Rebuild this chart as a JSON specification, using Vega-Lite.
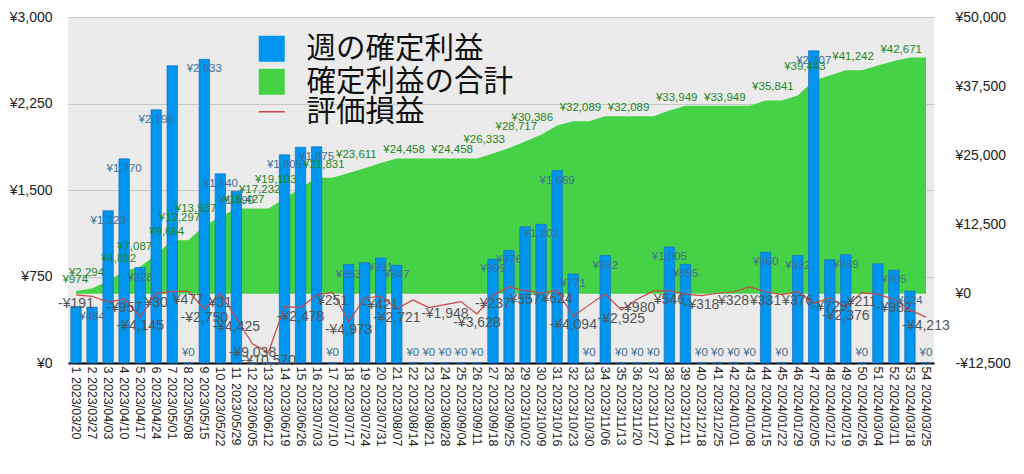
{
  "$schema": "https://vega.github.io/schema/vega-lite/v6.json",
  "width": 866,
  "height": 346,
  "autosize": {"type": "none"},
  "padding": {"left": 68, "top": 17, "right": 90, "bottom": 111},
  "background": "white",
  "config": {
    "locale": {"number": {"decimal": ".", "thousands": ",", "grouping": [3], "currency": ["¥", ""], "minus": "-"}},
    "view": {"fill": "#ebebeb", "stroke": null},
    "font": "Liberation Sans",
    "text": {"font": "Liberation Sans"}
  },
  "data": {
    "values": [
      {"w": 1, "x": "1 2023/03/20", "p": 490, "c": 490, "u": -191},
      {"w": 2, "x": "2 2023/03/27", "p": 484, "c": 974, "u": -450},
      {"w": 3, "x": "3 2023/04/03", "p": 1320, "c": 2294, "u": -1500},
      {"w": 4, "x": "4 2023/04/10", "p": 1770, "c": 4064, "u": -957},
      {"w": 5, "x": "5 2023/04/17", "p": 828, "c": 4892, "u": -4145},
      {"w": 6, "x": "6 2023/04/24", "p": 2195, "c": 7087, "u": 30},
      {"w": 7, "x": "7 2023/05/01", "p": 2577, "c": 9664, "u": 400},
      {"w": 8, "x": "8 2023/05/08", "p": 0, "c": 9664, "u": 477},
      {"w": 9, "x": "9 2023/05/15", "p": 2633, "c": 12297, "u": -2750},
      {"w": 10, "x": "10 2023/05/22", "p": 1640, "c": 13937, "u": 31},
      {"w": 11, "x": "11 2023/05/29", "p": 1490, "c": 15427, "u": -4425},
      {"w": 12, "x": "12 2023/06/05", "p": 0, "c": 15427, "u": -9038},
      {"w": 13, "x": "13 2023/06/12", "p": 0, "c": 15427, "u": -10570},
      {"w": 14, "x": "14 2023/06/19", "p": 1805, "c": 17232, "u": -2300},
      {"w": 15, "x": "15 2023/06/26", "p": 1871, "c": 19103, "u": -2478},
      {"w": 16, "x": "16 2023/07/03", "p": 1875, "c": 20978, "u": -220},
      {"w": 17, "x": "17 2023/07/10", "p": 0, "c": 20978, "u": 251},
      {"w": 18, "x": "18 2023/07/17", "p": 853, "c": 21831, "u": -4973},
      {"w": 19, "x": "19 2023/07/24", "p": 869, "c": 22700, "u": -800},
      {"w": 20, "x": "20 2023/07/31", "p": 911, "c": 23611, "u": -421},
      {"w": 21, "x": "21 2023/08/07", "p": 847, "c": 24458, "u": -2721},
      {"w": 22, "x": "22 2023/08/14", "p": 0, "c": 24458, "u": -1100},
      {"w": 23, "x": "23 2023/08/21", "p": 0, "c": 24458, "u": -2500},
      {"w": 24, "x": "24 2023/08/28", "p": 0, "c": 24458, "u": -1948},
      {"w": 25, "x": "25 2023/09/04", "p": 0, "c": 24458, "u": -1400},
      {"w": 26, "x": "26 2023/09/11", "p": 0, "c": 24458, "u": -3628},
      {"w": 27, "x": "27 2023/09/18", "p": 899, "c": 25357, "u": -237},
      {"w": 28, "x": "28 2023/09/25", "p": 976, "c": 26333, "u": 1250},
      {"w": 29, "x": "29 2023/10/02", "p": 1182, "c": 27515, "u": 557},
      {"w": 30, "x": "30 2023/10/09", "p": 1202, "c": 28717, "u": 150},
      {"w": 31, "x": "31 2023/10/16", "p": 1669, "c": 30386, "u": 624},
      {"w": 32, "x": "32 2023/10/23", "p": 771, "c": 31157, "u": -4094},
      {"w": 33, "x": "33 2023/10/30", "p": 0, "c": 31157, "u": -2000},
      {"w": 34, "x": "34 2023/11/06", "p": 932, "c": 32089, "u": -50},
      {"w": 35, "x": "35 2023/11/13", "p": 0, "c": 32089, "u": -2925},
      {"w": 36, "x": "36 2023/11/20", "p": 0, "c": 32089, "u": -980},
      {"w": 37, "x": "37 2023/11/27", "p": 0, "c": 32089, "u": 520},
      {"w": 38, "x": "38 2023/12/04", "p": 1005, "c": 33094, "u": 546},
      {"w": 39, "x": "39 2023/12/11", "p": 855, "c": 33949, "u": -50},
      {"w": 40, "x": "40 2023/12/18", "p": 0, "c": 33949, "u": -318},
      {"w": 41, "x": "41 2023/12/25", "p": 0, "c": 33949, "u": 100},
      {"w": 42, "x": "42 2024/01/01", "p": 0, "c": 33949, "u": 328},
      {"w": 43, "x": "43 2024/01/08", "p": 0, "c": 33949, "u": 1250},
      {"w": 44, "x": "44 2024/01/15", "p": 960, "c": 34909, "u": 331},
      {"w": 45, "x": "45 2024/01/22", "p": 0, "c": 34909, "u": -150},
      {"w": 46, "x": "46 2024/01/29", "p": 932, "c": 35841, "u": 376},
      {"w": 47, "x": "47 2024/02/05", "p": 2707, "c": 38548, "u": -1700},
      {"w": 48, "x": "48 2024/02/12", "p": 895, "c": 39443, "u": -729},
      {"w": 49, "x": "49 2024/02/19", "p": 939, "c": 40382, "u": -2376},
      {"w": 50, "x": "50 2024/02/26", "p": 0, "c": 40382, "u": 211},
      {"w": 51, "x": "51 2024/03/04", "p": 860, "c": 41242, "u": -100},
      {"w": 52, "x": "52 2024/03/11", "p": 805, "c": 42047, "u": -982},
      {"w": 53, "x": "53 2024/03/18", "p": 624, "c": 42671, "u": -2900},
      {"w": 54, "x": "54 2024/03/25", "p": 0, "c": 42671, "u": -4213}
    ]
  },
  "encoding": {
    "x": {
      "field": "x", "type": "ordinal", "sort": null,
      "scale": {"paddingInner": 0.35, "paddingOuter": 0.175},
      "axis": {"title": null, "labelAngle": 90, "labelFontSize": 12.5, "labelColor": "#222", "ticks": false, "domainColor": "#000", "domainWidth": 2, "labelPadding": 3, "grid": false, "labelOverlap": false, "labelFont": "Liberation Sans"}
    }
  },
  "layer": [
    {
      "mark": {"type": "area"},
      "encoding": {
        "y": {"field": "c", "type": "quantitative", "scale": {"domain": [-12500, 50000], "nice": false, "zero": false},
          "axis": {"orient": "right", "title": null, "values": [-12500, 0, 12500, 25000, 37500, 50000], "format": "$,d", "grid": false, "ticks": false, "domain": false, "labelPadding": 21, "labelFontSize": 14, "labelColor": "#222", "labelFont": "Liberation Sans"}},
        "fill": {"datum": "確定利益の合計", "type": "nominal"}
      }
    },
    {
      "mark": {"type": "bar", "stroke": "#1a6cc0", "strokeWidth": 0.7},
      "encoding": {
        "y": {"field": "p", "type": "quantitative", "scale": {"domain": [0, 3000], "nice": false},
          "axis": {"orient": "left", "title": null, "values": [0, 750, 1500, 2250, 3000], "format": "$,d", "grid": true, "gridColor": "#c6c6c6", "ticks": false, "domain": false, "labelPadding": 16, "labelFontSize": 14, "labelColor": "#222", "labelFont": "Liberation Sans"}},
        "fill": {"datum": "週の確定利益", "type": "nominal",
          "scale": {"domain": ["週の確定利益", "確定利益の合計"], "range": ["#0096f0", "#46d246"]},
          "legend": {"orient": "none", "legendX": 189, "legendY": 17, "title": null, "symbolType": "square", "symbolSize": 676, "symbolStrokeWidth": 0, "labelFontSize": 29.5, "labelFont": "Noto Sans CJK JP", "labelColor": "#111", "labelOffset": 20, "rowPadding": 2, "padding": 0, "labelLimit": 400}}
      }
    },
    {
      "mark": {"type": "line", "strokeWidth": 1.2},
      "encoding": {
        "y": {"field": "u", "type": "quantitative", "scale": {"domain": [-12500, 50000], "nice": false, "zero": false}, "axis": null},
        "stroke": {"datum": "評価損益", "type": "nominal",
          "scale": {"domain": ["評価損益"], "range": ["#cc4444"]},
          "legend": {"orient": "none", "legendX": 189, "legendY": 80, "title": null, "symbolType": "stroke", "symbolSize": 676, "symbolStrokeWidth": 1.5, "labelFontSize": 29.5, "labelFont": "Noto Sans CJK JP", "labelColor": "#111", "labelOffset": 20, "padding": 0, "labelLimit": 400}}
      }
    },
    {
      "transform": [{"filter": {"field": "w", "oneOf": [2, 3, 4, 5, 6, 9, 10, 11, 14, 16, 18, 20, 21, 27, 28, 30, 31, 32, 34, 38, 39, 44, 46, 47, 49, 52, 53]}}],
      "mark": {"type": "text", "dy": 10, "fontSize": 11.5, "color": "#3d6f96", "baseline": "middle"},
      "encoding": {
        "y": {"field": "p", "type": "quantitative", "scale": {"domain": [0, 3000], "nice": false}, "axis": null},
        "text": {"field": "p", "type": "quantitative", "format": "$,d"}
      }
    },
    {
      "transform": [{"filter": {"field": "w", "oneOf": [8, 17, 22, 23, 24, 25, 26, 33, 35, 36, 37, 40, 41, 42, 43, 45, 50, 54]}}],
      "mark": {"type": "text", "dy": -10, "fontSize": 11.5, "color": "#3d6f96", "baseline": "middle"},
      "encoding": {
        "y": {"field": "p", "type": "quantitative", "scale": {"domain": [0, 3000], "nice": false}, "axis": null},
        "text": {"field": "p", "type": "quantitative", "format": "$,d"}
      }
    },
    {
      "transform": [{"filter": {"field": "w", "oneOf": [2, 3, 5, 6, 8, 9, 10, 13, 14, 15, 18, 20, 23, 26, 28, 30, 31, 34, 37, 40, 43, 46, 48, 51, 54]}}],
      "mark": {"type": "text", "dy": -8, "dx": -4, "align": "right", "fontSize": 11.5, "color": "#1f861f", "baseline": "middle"},
      "encoding": {
        "y": {"field": "c", "type": "quantitative", "scale": {"domain": [-12500, 50000], "nice": false, "zero": false}, "axis": null},
        "text": {"field": "c", "type": "quantitative", "format": "$,d"}
      }
    },
    {
      "transform": [{"filter": {"field": "w", "oneOf": [1, 4, 5, 6, 8, 9, 10, 11, 12, 13, 15, 17, 18, 20, 21, 24, 26, 27, 29, 31, 32, 35, 36, 38, 40, 42, 44, 46, 48, 49, 50, 52, 54]}}],
      "mark": {"type": "text", "dy": 9, "fontSize": 14, "color": "#555555", "baseline": "middle"},
      "encoding": {
        "y": {"field": "u", "type": "quantitative", "scale": {"domain": [-12500, 50000], "nice": false, "zero": false}, "axis": null},
        "text": {"field": "u", "type": "quantitative", "format": "$,d"}
      }
    }
  ],
  "resolve": {"scale": {"y": "independent"}}
}
